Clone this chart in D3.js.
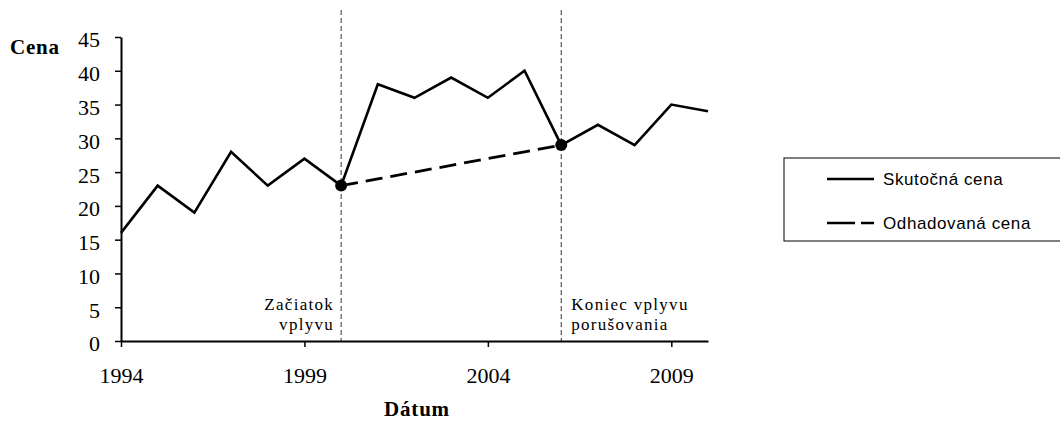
<!DOCTYPE html>
<html>
<head>
<meta charset="utf-8">
<script src="https://cdn.jsdelivr.net/npm/d3@7"></script>
<style>
  body { margin: 0; background: #fff; }
  svg { display: block; }
</style>
</head>
<body>
<script>
const years = d3.range(1994, 2011);
const actualPrice = [16, 23, 19, 28, 23, 27, 23, 38, 36, 39, 36, 40, 29, 32, 29, 35, 34];
const estYears = [2000, 2001, 2002, 2003, 2004, 2005, 2006];
const estPrice = [23, 24, 25, 26, 27, 28, 29];
const markers = [{year: 2000, value: 23}, {year: 2006, value: 29}];
const eventYears = [2000, 2006];
const yTicks = d3.range(0, 50, 5);
const xTicks = [1994, 1999, 2004, 2009];
const legendLabels = ["Skutočná cena", "Odhadovaná cena"];

const width = 1060, height = 424;
const margin = {top: 37, right: 352, bottom: 83, left: 121};
const innerWidth = width - margin.left - margin.right;
const innerHeight = height - margin.top - margin.bottom;

const svg = d3.select('body').append('svg')
  .attr('width', width).attr('height', height);

const g = svg.append('g')
  .attr('transform', `translate(${margin.left},${margin.top})`);

const x = d3.scaleLinear().domain([1994, 2010]).range([0, innerWidth]);
const y = d3.scaleLinear().domain([0, 45]).range([innerHeight, 0]);

const serif = '"Liberation Serif", "Times New Roman", serif';

// vertical event lines
g.selectAll('line.event').data(eventYears)
  .join('line')
  .attr('class', 'event')
  .attr('x1', d => x(d)).attr('x2', d => x(d))
  .attr('y1', -27).attr('y2', innerHeight)
  .attr('stroke', '#333').attr('stroke-width', 1)
  .attr('stroke-dasharray', '5,3');

// axes
const yAxis = g.append('g')
  .call(d3.axisLeft(y).tickValues(yTicks).tickSize(6).tickSizeOuter(0));
const xAxis = g.append('g')
  .attr('transform', `translate(0,${innerHeight})`)
  .call(d3.axisBottom(x).tickValues(xTicks).tickFormat(d3.format('d')).tickSize(6).tickSizeOuter(0));

[yAxis, xAxis].forEach(a => {
  a.attr('font-family', serif).attr('font-size', 22);
  a.select('.domain').attr('stroke', '#000').attr('stroke-width', 2);
  a.selectAll('.tick line').attr('stroke', '#000').attr('stroke-width', 1.5);
  a.selectAll('.tick text').attr('fill', '#000');
});
yAxis.selectAll('.tick text').attr('x', -21).attr('dy', '0.45em');
xAxis.selectAll('.tick text').attr('y', 42).attr('dy', 0);

// lines
const line = d3.line().x(d => x(d[0])).y(d => y(d[1]));

g.append('path')
  .datum(d3.zip(estYears, estPrice))
  .attr('d', line)
  .attr('fill', 'none').attr('stroke', '#000').attr('stroke-width', 2.8)
  .attr('stroke-dasharray', '17,8');

g.append('path')
  .datum(d3.zip(years, actualPrice))
  .attr('d', line)
  .attr('fill', 'none').attr('stroke', '#000').attr('stroke-width', 2.6)
  .attr('stroke-linejoin', 'miter');

g.selectAll('circle.marker').data(markers)
  .join('circle')
  .attr('class', 'marker')
  .attr('cx', d => x(d.year)).attr('cy', d => y(d.value))
  .attr('r', 6).attr('fill', '#000');

// event labels
const annot = g.append('g')
  .attr('font-family', serif).attr('font-size', 17).attr('fill', '#000')
  .attr('letter-spacing', 1.3);
annot.append('text').attr('x', x(2000) - 7).attr('y', innerHeight - 31)
  .attr('text-anchor', 'end').text('Začiatok');
annot.append('text').attr('x', x(2000) - 7).attr('y', innerHeight - 11)
  .attr('text-anchor', 'end').text('vplyvu');
annot.append('text').attr('x', x(2006) + 10).attr('y', innerHeight - 31)
  .text('Koniec vplyvu');
annot.append('text').attr('x', x(2006) + 10).attr('y', innerHeight - 11)
  .text('porušovania');

// axis titles
svg.append('text').attr('x', 10).attr('y', 54)
  .attr('font-family', serif).attr('font-size', 21).attr('font-weight', 'bold')
  .attr('letter-spacing', 0.8)
  .text('Cena');
svg.append('text').attr('x', 417).attr('y', 416)
  .attr('text-anchor', 'middle')
  .attr('font-family', serif).attr('font-size', 21).attr('font-weight', 'bold')
  .attr('letter-spacing', 0.8)
  .text('Dátum');

// legend
const legend = svg.append('g').attr('transform', 'translate(784,158)');
legend.append('rect').attr('width', 285).attr('height', 83)
  .attr('fill', '#fff').attr('stroke', '#000').attr('stroke-width', 1);
const items = legend.selectAll('g.item').data(legendLabels)
  .join('g').attr('class', 'item')
  .attr('transform', (_, i) => `translate(0,${21 + i * 44})`);
items.append('line')
  .attr('x1', 43).attr('x2', 90)
  .attr('stroke', '#000').attr('stroke-width', 2.5)
  .attr('stroke-dasharray', (_, i) => i ? '28,6' : null);
items.append('text')
  .attr('x', 99).attr('dy', '0.35em')
  .attr('font-family', '"Liberation Sans", Arial, sans-serif').attr('font-size', 17)
  .attr('letter-spacing', 0.6)
  .text(d => d);
</script>
</body>
</html>
